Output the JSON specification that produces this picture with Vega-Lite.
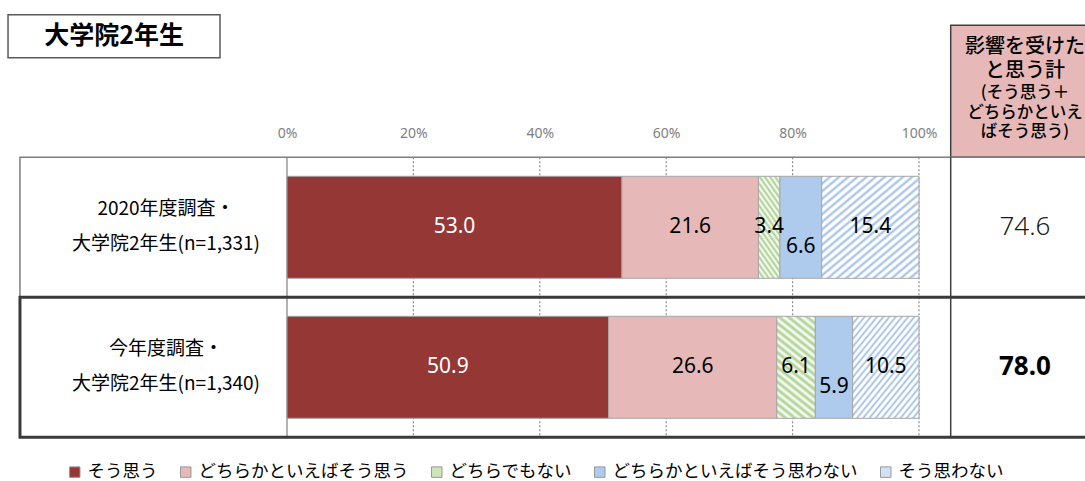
{
  "$schema": "https://vega.github.io/schema/vega-lite/v6.json",
  "width": 1085,
  "height": 481,
  "autosize": {"type": "none"},
  "padding": 0,
  "background": "white",
  "config": {
    "view": {"stroke": null},
    "axisY": {"disable": true},
    "font": "Noto Sans CJK JP"
  },
  "datasets": {
    "resp": [
      {"row": 1, "survey": "2020年度調査", "category": "そう思う", "k": 1, "value": 53.0},
      {"row": 1, "survey": "2020年度調査", "category": "どちらかといえばそう思う", "k": 2, "value": 21.6},
      {"row": 1, "survey": "2020年度調査", "category": "どちらでもない", "k": 3, "value": 3.4},
      {"row": 1, "survey": "2020年度調査", "category": "どちらかといえばそう思わない", "k": 4, "value": 6.6},
      {"row": 1, "survey": "2020年度調査", "category": "そう思わない", "k": 5, "value": 15.4},
      {"row": 2, "survey": "今年度調査", "category": "そう思う", "k": 1, "value": 50.9},
      {"row": 2, "survey": "今年度調査", "category": "どちらかといえばそう思う", "k": 2, "value": 26.6},
      {"row": 2, "survey": "今年度調査", "category": "どちらでもない", "k": 3, "value": 6.1},
      {"row": 2, "survey": "今年度調査", "category": "どちらかといえばそう思わない", "k": 4, "value": 5.9},
      {"row": 2, "survey": "今年度調査", "category": "そう思わない", "k": 5, "value": 10.5}
    ],
    "rows": [
      {"row": 1, "label": "2020年度調査・\n大学院2年生(n=1,331)", "total": 74.6},
      {"row": 2, "label": "今年度調査・\n大学院2年生(n=1,340)", "total": 78.0}
    ],
    "ticks": [{"pct": 20}, {"pct": 40}, {"pct": 60}, {"pct": 80}, {"pct": 100}]
  },
  "layer": [
    {
      "data": {"values": [{}]},
      "mark": {"type": "rect", "fill": "#e6b9b8", "stroke": "#404040", "strokeWidth": 1.5},
      "encoding": {
        "x": {"datum": 105.02, "type": "quantitative", "scale": {"domain": [-45.41, 126.27], "nice": false, "zero": false}},
        "x2": {"datum": 135},
        "y": {"datum": -0.4426, "type": "quantitative", "scale": {"domain": [-0.5874, 2.7762], "reverse": true, "nice": false, "zero": false}},
        "y2": {"datum": 0.5}
      }
    },
    {
      "data": {"values": [{}]},
      "mark": {"type": "rule", "color": "#7f7f7f", "strokeWidth": 1.2},
      "encoding": {
        "x": {"datum": 0, "type": "quantitative"},
        "y": {"datum": 0.5, "type": "quantitative"},
        "y2": {"datum": 2.5}
      }
    },
    {
      "data": {"name": "ticks"},
      "mark": {"type": "rule", "color": "#8c8c8c", "strokeWidth": 1.2, "strokeDash": [2, 2]},
      "encoding": {
        "x": {"field": "pct", "type": "quantitative"},
        "y": {"datum": 0.5, "type": "quantitative"},
        "y2": {"datum": 2.5}
      }
    },
    {
      "data": {"name": "resp"},
      "mark": {"type": "bar", "orient": "horizontal", "height": 102, "stroke": "#a6a6a6", "strokeWidth": 1},
      "encoding": {
        "x": {
          "field": "value", "type": "quantitative", "stack": "zero",
          "scale": {"domain": [-45.41, 126.27], "nice": false, "zero": false},
          "axis": {
            "orient": "top", "values": [0, 20, 40, 60, 80, 100],
            "labelExpr": "datum.value + '%'", "domain": false, "ticks": false, "tickSize": 0,
            "grid": false, "labelPadding": 2, "offset": -142, "labelColor": "#808080",
            "labelFontSize": 14, "labelFont": "Noto Sans", "title": null
          }
        },
        "y": {
          "field": "row", "type": "quantitative",
          "scale": {"domain": [-0.5874, 2.7762], "reverse": true, "nice": false, "zero": false},
          "axis": null
        },
        "color": {
          "condition": [
            {
              "test": "datum.category === 'どちらでもない'",
              "value": {
                "gradient": "linear", "x1": 0, "y1": 1, "x2": 0.3578, "y2": -0.1927,
                "stops": [
                  {"offset": 0, "color": "#a9cf8c"}, {"offset": 0.02778, "color": "#ffffff"},
                  {"offset": 0.05556, "color": "#a9cf8c"}, {"offset": 0.08333, "color": "#ffffff"},
                  {"offset": 0.11111, "color": "#a9cf8c"}, {"offset": 0.13889, "color": "#ffffff"},
                  {"offset": 0.16667, "color": "#a9cf8c"}, {"offset": 0.19444, "color": "#ffffff"},
                  {"offset": 0.22222, "color": "#a9cf8c"}, {"offset": 0.25, "color": "#ffffff"},
                  {"offset": 0.27778, "color": "#a9cf8c"}, {"offset": 0.30556, "color": "#ffffff"},
                  {"offset": 0.33333, "color": "#a9cf8c"}, {"offset": 0.36111, "color": "#ffffff"},
                  {"offset": 0.38889, "color": "#a9cf8c"}, {"offset": 0.41667, "color": "#ffffff"},
                  {"offset": 0.44444, "color": "#a9cf8c"}, {"offset": 0.47222, "color": "#ffffff"},
                  {"offset": 0.5, "color": "#a9cf8c"}, {"offset": 0.52778, "color": "#ffffff"},
                  {"offset": 0.55556, "color": "#a9cf8c"}, {"offset": 0.58333, "color": "#ffffff"},
                  {"offset": 0.61111, "color": "#a9cf8c"}, {"offset": 0.63889, "color": "#ffffff"},
                  {"offset": 0.66667, "color": "#a9cf8c"}, {"offset": 0.69444, "color": "#ffffff"},
                  {"offset": 0.72222, "color": "#a9cf8c"}, {"offset": 0.75, "color": "#ffffff"},
                  {"offset": 0.77778, "color": "#a9cf8c"}, {"offset": 0.80556, "color": "#ffffff"},
                  {"offset": 0.83333, "color": "#a9cf8c"}, {"offset": 0.86111, "color": "#ffffff"},
                  {"offset": 0.88889, "color": "#a9cf8c"}, {"offset": 0.91667, "color": "#ffffff"},
                  {"offset": 0.94444, "color": "#a9cf8c"}, {"offset": 0.97222, "color": "#ffffff"},
                  {"offset": 1, "color": "#a9cf8c"}
                ]
              }
            },
            {
              "test": "datum.category === 'そう思わない'",
              "value": {
                "gradient": "linear", "x1": 0, "y1": 0, "x2": 0.878, "y2": 1.0976,
                "stops": [
                  {"offset": 0, "color": "#9ebde5"}, {"offset": 0.01458, "color": "#ffffff"}, {"offset": 0.02708, "color": "#ffffff"},
                  {"offset": 0.04167, "color": "#9ebde5"}, {"offset": 0.05625, "color": "#ffffff"}, {"offset": 0.06875, "color": "#ffffff"},
                  {"offset": 0.08333, "color": "#9ebde5"}, {"offset": 0.09792, "color": "#ffffff"}, {"offset": 0.11042, "color": "#ffffff"},
                  {"offset": 0.125, "color": "#9ebde5"}, {"offset": 0.13958, "color": "#ffffff"}, {"offset": 0.15208, "color": "#ffffff"},
                  {"offset": 0.16667, "color": "#9ebde5"}, {"offset": 0.18125, "color": "#ffffff"}, {"offset": 0.19375, "color": "#ffffff"},
                  {"offset": 0.20833, "color": "#9ebde5"}, {"offset": 0.22292, "color": "#ffffff"}, {"offset": 0.23542, "color": "#ffffff"},
                  {"offset": 0.25, "color": "#9ebde5"}, {"offset": 0.26458, "color": "#ffffff"}, {"offset": 0.27708, "color": "#ffffff"},
                  {"offset": 0.29167, "color": "#9ebde5"}, {"offset": 0.30625, "color": "#ffffff"}, {"offset": 0.31875, "color": "#ffffff"},
                  {"offset": 0.33333, "color": "#9ebde5"}, {"offset": 0.34792, "color": "#ffffff"}, {"offset": 0.36042, "color": "#ffffff"},
                  {"offset": 0.375, "color": "#9ebde5"}, {"offset": 0.38958, "color": "#ffffff"}, {"offset": 0.40208, "color": "#ffffff"},
                  {"offset": 0.41667, "color": "#9ebde5"}, {"offset": 0.43125, "color": "#ffffff"}, {"offset": 0.44375, "color": "#ffffff"},
                  {"offset": 0.45833, "color": "#9ebde5"}, {"offset": 0.47292, "color": "#ffffff"}, {"offset": 0.48542, "color": "#ffffff"},
                  {"offset": 0.5, "color": "#9ebde5"}, {"offset": 0.51458, "color": "#ffffff"}, {"offset": 0.52708, "color": "#ffffff"},
                  {"offset": 0.54167, "color": "#9ebde5"}, {"offset": 0.55625, "color": "#ffffff"}, {"offset": 0.56875, "color": "#ffffff"},
                  {"offset": 0.58333, "color": "#9ebde5"}, {"offset": 0.59792, "color": "#ffffff"}, {"offset": 0.61042, "color": "#ffffff"},
                  {"offset": 0.625, "color": "#9ebde5"}, {"offset": 0.63958, "color": "#ffffff"}, {"offset": 0.65208, "color": "#ffffff"},
                  {"offset": 0.66667, "color": "#9ebde5"}, {"offset": 0.68125, "color": "#ffffff"}, {"offset": 0.69375, "color": "#ffffff"},
                  {"offset": 0.70833, "color": "#9ebde5"}, {"offset": 0.72292, "color": "#ffffff"}, {"offset": 0.73542, "color": "#ffffff"},
                  {"offset": 0.75, "color": "#9ebde5"}, {"offset": 0.76458, "color": "#ffffff"}, {"offset": 0.77708, "color": "#ffffff"},
                  {"offset": 0.79167, "color": "#9ebde5"}, {"offset": 0.80625, "color": "#ffffff"}, {"offset": 0.81875, "color": "#ffffff"},
                  {"offset": 0.83333, "color": "#9ebde5"}, {"offset": 0.84792, "color": "#ffffff"}, {"offset": 0.86042, "color": "#ffffff"},
                  {"offset": 0.875, "color": "#9ebde5"}, {"offset": 0.88958, "color": "#ffffff"}, {"offset": 0.90208, "color": "#ffffff"},
                  {"offset": 0.91667, "color": "#9ebde5"}, {"offset": 0.93125, "color": "#ffffff"}, {"offset": 0.94375, "color": "#ffffff"},
                  {"offset": 0.95833, "color": "#9ebde5"}, {"offset": 0.97292, "color": "#ffffff"}, {"offset": 0.98542, "color": "#ffffff"},
                  {"offset": 1, "color": "#9ebde5"}
                ]
              }
            }
          ],
          "field": "category", "type": "nominal",
          "scale": {
            "domain": ["そう思う", "どちらかといえばそう思う", "どちらでもない", "どちらかといえばそう思わない", "そう思わない"],
            "range": ["#953735", "#e6b9b8", "#cfe4b9", "#aecbee", "#d3e1f4"]
          },
          "legend": {
            "orient": "none", "legendX": 66, "legendY": 463, "direction": "horizontal",
            "title": null, "symbolType": "square", "symbolSize": 110,
            "symbolStrokeColor": "#999999", "symbolStrokeWidth": 1,
            "labelFontSize": 17.5, "labelFont": "Noto Sans CJK JP", "labelColor": "#000000",
            "labelOffset": 4, "columnPadding": 19, "padding": 0, "labelLimit": 400
          }
        },
        "order": {"field": "k", "type": "quantitative"}
      }
    },
    {
      "data": {"name": "resp"},
      "mark": {"type": "text", "fontSize": 21, "font": "Noto Sans", "baseline": "middle", "align": "center"},
      "encoding": {
        "x": {"field": "value", "type": "quantitative", "stack": "zero", "bandPosition": 0.5},
        "y": {"field": "row", "type": "quantitative"},
        "detail": {"field": "category"},
        "order": {"field": "k", "type": "quantitative"},
        "text": {
          "condition": {"test": "datum.category === 'どちらかといえばそう思わない'", "value": ""},
          "field": "value", "type": "quantitative", "format": ".1f"
        },
        "fill": {"condition": {"test": "datum.category === 'そう思う'", "value": "#ffffff"}, "value": "#000000"}
      }
    },
    {
      "data": {"name": "resp"},
      "mark": {"type": "text", "fontSize": 21, "font": "Noto Sans", "baseline": "middle", "align": "center", "dy": 20},
      "encoding": {
        "x": {"field": "value", "type": "quantitative", "stack": "zero", "bandPosition": 0.5},
        "y": {"field": "row", "type": "quantitative"},
        "detail": {"field": "category"},
        "order": {"field": "k", "type": "quantitative"},
        "text": {
          "condition": {"test": "datum.category === 'どちらかといえばそう思わない'", "field": "value", "type": "quantitative", "format": ".1f"},
          "value": ""
        },
        "fill": {"value": "#000000"}
      }
    },
    {
      "data": {"values": [{}]},
      "mark": {"type": "rect", "filled": false, "stroke": "#7f7f7f", "strokeWidth": 1.5},
      "encoding": {
        "x": {"datum": -42.25, "type": "quantitative"},
        "x2": {"datum": 135},
        "y": {"datum": 0.5, "type": "quantitative"},
        "y2": {"datum": 1.5}
      }
    },
    {
      "data": {"values": [{}]},
      "mark": {"type": "rule", "color": "#404040", "strokeWidth": 1.5},
      "encoding": {
        "x": {"datum": 105.02, "type": "quantitative"},
        "y": {"datum": 0.5, "type": "quantitative"},
        "y2": {"datum": 2.5}
      }
    },
    {
      "data": {"values": [{}]},
      "mark": {"type": "rect", "filled": false, "stroke": "#3a3a3a", "strokeWidth": 3},
      "encoding": {
        "x": {"datum": -42.25, "type": "quantitative"},
        "x2": {"datum": 135},
        "y": {"datum": 1.5, "type": "quantitative"},
        "y2": {"datum": 2.5}
      }
    },
    {
      "data": {"values": [{}]},
      "mark": {"type": "rect", "fill": "#ffffff", "stroke": "#595959", "strokeWidth": 1.5},
      "encoding": {
        "x": {"datum": -44.14, "type": "quantitative"},
        "x2": {"datum": -10.6},
        "y": {"datum": -0.5175, "type": "quantitative"},
        "y2": {"datum": -0.2098}
      }
    },
    {
      "data": {"values": [{"t": "大学院2年生"}]},
      "mark": {"type": "text", "fontSize": 25, "fontWeight": "bold", "font": "Noto Sans CJK JP", "align": "center", "baseline": "middle", "color": "#000000"},
      "encoding": {
        "x": {"datum": -27.37, "type": "quantitative"},
        "y": {"datum": -0.3636, "type": "quantitative"},
        "text": {"field": "t"}
      }
    },
    {
      "data": {"values": [{"t": "影響を受けた\nと思う計"}]},
      "mark": {"type": "text", "fontSize": 20, "font": "Noto Sans CJK JP", "fontWeight": 500, "align": "center", "baseline": "middle", "lineBreak": "\n", "lineHeight": 24, "color": "#000000"},
      "encoding": {
        "x": {"datum": 116.77, "type": "quantitative"},
        "y": {"datum": -0.2867, "type": "quantitative"},
        "text": {"field": "t"}
      }
    },
    {
      "data": {"values": [{"t": "(そう思う＋\nどちらかといえ\nばそう思う)"}]},
      "mark": {"type": "text", "fontSize": 16.5, "font": "Noto Sans CJK JP", "fontWeight": 500, "align": "center", "baseline": "middle", "lineBreak": "\n", "lineHeight": 19.5, "color": "#000000"},
      "encoding": {
        "x": {"datum": 116.77, "type": "quantitative"},
        "y": {"datum": 0.042, "type": "quantitative"},
        "text": {"field": "t"}
      }
    },
    {
      "data": {"name": "rows"},
      "mark": {"type": "text", "fontSize": 19, "font": "Noto Sans CJK JP", "align": "center", "baseline": "middle", "lineBreak": "\n", "lineHeight": 35, "dy": -18, "color": "#000000"},
      "encoding": {
        "x": {"datum": -19.14, "type": "quantitative"},
        "y": {"field": "row", "type": "quantitative"},
        "text": {"field": "label"}
      }
    },
    {
      "data": {"name": "rows"},
      "transform": [{"filter": "datum.row === 1"}],
      "mark": {"type": "text", "fontSize": 26, "font": "Noto Sans", "fontWeight": 300, "align": "center", "baseline": "middle", "color": "#1a1a1a"},
      "encoding": {
        "x": {"datum": 116.77, "type": "quantitative"},
        "y": {"field": "row", "type": "quantitative"},
        "text": {"field": "total", "type": "quantitative", "format": ".1f"}
      }
    },
    {
      "data": {"name": "rows"},
      "transform": [{"filter": "datum.row === 2"}],
      "mark": {"type": "text", "fontSize": 26, "font": "Noto Sans", "fontWeight": "bold", "align": "center", "baseline": "middle", "color": "#000000"},
      "encoding": {
        "x": {"datum": 116.77, "type": "quantitative"},
        "y": {"field": "row", "type": "quantitative"},
        "text": {"field": "total", "type": "quantitative", "format": ".1f"}
      }
    }
  ]
}
